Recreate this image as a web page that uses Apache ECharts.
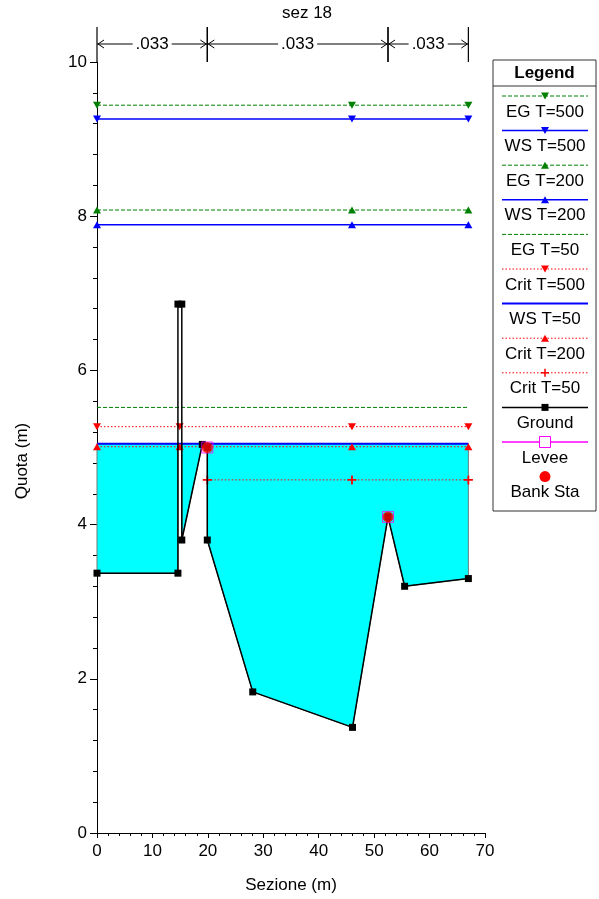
<!DOCTYPE html>
<html><head><meta charset="utf-8">
<script src="https://cdn.jsdelivr.net/npm/echarts@6/dist/echarts.min.js"></script>
<style>html,body{margin:0;padding:0;background:#fff}#c{width:599px;height:899px}</style>
</head><body><div id="c"></div>
<script>
// ---- data ----
const groundX = [0, 14.6, 14.6, 15.3, 15.3, 19.0, 19.9, 19.9, 28.1, 46.1, 52.5, 55.5, 67.0];
const groundY = [3.37, 3.37, 6.86, 6.86, 3.80, 5.04, 5.00, 3.80, 1.83, 1.37, 4.10, 3.20, 3.30];
const bankX = [19.9, 52.5];
const bankY = [5.00, 4.10];
const leveeX = [19.9, 52.5];
const leveeY = [5.00, 4.10];
const nStations = [0, 19.9, 52.5, 67];
const nValues = ['.033', '.033', '.033'];
const wsNames = ['EG T=500', 'WS T=500', 'EG T=200', 'WS T=200', 'EG T=50', 'Crit T=500', 'WS T=50', 'Crit T=200', 'Crit T=50'];
const wsLevels = [9.44, 9.26, 8.08, 7.89, 5.52, 5.27, 5.05, 5.01, 4.58];
const wsStations = [[0, 46, 67], [0, 46, 67], [0, 46, 67], [0, 46, 67], [0, 67], [0, 14.9, 46, 67], [0, 67], [0, 14.9, 46, 67], [19.9, 46, 67]];
const xTicks = [0, 10, 20, 30, 40, 50, 60, 70];
const yTicks = [0, 2, 4, 6, 8, 10];
const fillLevelName = 'WS T=50';

// ---- styles ----
const FONT = '"Liberation Sans", Arial, sans-serif';
const GREEN = '#008000', BLUE = '#0000ff', RED = '#ff0000', MAG = '#ff00ff';
const PLUS = 'path://M4,0H6V4H10V6H6V10H4V6H0V4H4Z';
const styleOf = {
  'EG T=500': {color: GREEN, type: [4, 2], w: 1, sym: 'triangle', rot: 180},
  'WS T=500': {color: BLUE, type: 'solid', w: 1.5, sym: 'triangle', rot: 180},
  'EG T=200': {color: GREEN, type: [4, 2], w: 1, sym: 'triangle', rot: 0},
  'WS T=200': {color: BLUE, type: 'solid', w: 1.5, sym: 'triangle', rot: 0},
  'EG T=50': {color: GREEN, type: [4, 2], w: 1, sym: 'none', rot: 0},
  'Crit T=500': {color: RED, type: [1.5, 2], w: 1, sym: 'triangle', rot: 180},
  'WS T=50': {color: BLUE, type: 'solid', w: 2, sym: 'none', rot: 0},
  'Crit T=200': {color: RED, type: [1.5, 2], w: 1, sym: 'triangle', rot: 0},
  'Crit T=50': {color: RED, type: [1.5, 2], w: 1, sym: PLUS, rot: 0}
};

const chart = echarts.init(document.getElementById('c'), null, {renderer: 'canvas'});

const wsLevel = wsLevels[wsNames.indexOf(fillLevelName)];
const waterPts = [[groundX[0], wsLevel]]
  .concat(groundX.map((x, i) => [x, Math.min(groundY[i], wsLevel)]))
  .concat([[groundX[groundX.length - 1], wsLevel]]);

const series = [];
series.push({
  type: 'custom', name: 'water', silent: true, z: 1, clip: false,
  data: waterPts, encode: {x: 0, y: 1},
  renderItem: (params, api) => {
    if (params.dataIndex !== 0) return null;
    const pts = waterPts.map(p => api.coord(p));
    return {type: 'polygon', shape: {points: pts}, style: {fill: '#00ffff', stroke: '#6a7a7a', lineWidth: 1}};
  }
});

wsNames.forEach((nm, i) => {
  const s = styleOf[nm];
  series.push({
    type: 'line', name: nm, z: 3, silent: true, animation: false,
    data: wsStations[i].map(x => [x, wsLevels[i]]),
    symbol: s.sym, symbolSize: s.sym === PLUS ? 9 : [8, 7], symbolRotate: s.rot,
    showAllSymbol: true,
    itemStyle: {color: s.color},
    lineStyle: {color: s.color, type: s.type, width: s.w}
  });
});

series.push({
  type: 'line', name: 'Ground', z: 5, silent: true, animation: false,
  data: groundX.map((x, i) => [x, groundY[i]]),
  symbol: 'rect', symbolSize: 7, showAllSymbol: true,
  itemStyle: {color: '#000'}, lineStyle: {color: '#000', width: 1.5}
});
series.push({
  type: 'scatter', name: 'Levee', z: 6, silent: true, animation: false,
  data: leveeX.map((x, i) => [x, leveeY[i]]),
  symbol: 'rect', symbolSize: 11,
  itemStyle: {color: 'rgba(0,0,0,0)', borderColor: MAG, borderWidth: 1}
});
series.push({
  type: 'scatter', name: 'Bank Sta', z: 7, silent: true, animation: false,
  data: bankX.map((x, i) => [x, bankY[i]]),
  symbol: 'circle', symbolSize: 11,
  itemStyle: {color: RED}
});

// Manning n annotation
const nSegs = nValues.map((v, i) => [nStations[i], nStations[i + 1], 10]);
series.push({
  type: 'custom', name: 'nvalues', silent: true, z: 8, clip: false,
  data: nSegs, encode: {x: [0, 1], y: 2},
  renderItem: (params, api) => {
    const a = api.coord([api.value(0), api.value(2)]);
    const b = api.coord([api.value(1), api.value(2)]);
    const top = a[1] - 35, ay = a[1] - 18;
    const st = {stroke: '#000', lineWidth: 1.2, fill: null};
    return {
      type: 'group',
      children: [
        {type: 'line', shape: {x1: a[0], y1: top, x2: a[0], y2: a[1]}, style: st},
        {type: 'line', shape: {x1: b[0], y1: top, x2: b[0], y2: a[1]}, style: st},
        {type: 'line', shape: {x1: a[0], y1: ay, x2: b[0], y2: ay}, style: {stroke: '#000', lineWidth: 1}},
        {type: 'polyline', shape: {points: [[a[0] + 7, ay - 4], [a[0] + 1, ay], [a[0] + 7, ay + 4]]}, style: {stroke: '#000', lineWidth: 1, fill: null}},
        {type: 'polyline', shape: {points: [[b[0] - 7, ay - 4], [b[0] - 1, ay], [b[0] - 7, ay + 4]]}, style: {stroke: '#000', lineWidth: 1, fill: null}},
        {type: 'text', x: (a[0] + b[0]) / 2, y: ay, style: {
          text: nValues[params.dataIndex], font: '17px ' + FONT, fill: '#000',
          align: 'center', verticalAlign: 'middle', backgroundColor: '#fff', padding: [0, 3]
        }}
      ]
    };
  }
});

// Legend built as graphic
const legendItems = ['EG T=500', 'WS T=500', 'EG T=200', 'WS T=200', 'EG T=50', 'Crit T=500', 'WS T=50', 'Crit T=200', 'Crit T=50', 'Ground', 'Levee', 'Bank Sta'];
const LX = 493, LY = 60, LW = 103, LH = 451;
const lg = [];
lg.push({type: 'rect', shape: {x: LX, y: LY, width: LW, height: LH}, style: {fill: '#fff', stroke: '#333', lineWidth: 1}});
lg.push({type: 'text', style: {x: LX + LW / 2, y: LY + 13, text: 'Legend', font: 'bold 17px ' + FONT, fill: '#000', align: 'center', verticalAlign: 'middle'}});
lg.push({type: 'line', shape: {x1: LX, y1: LY + 26, x2: LX + LW, y2: LY + 26}, style: {stroke: '#333', lineWidth: 1}});
const cx = LX + 52;
legendItems.forEach((nm, i) => {
  const ly = 96 + i * 34.6, ty = ly + 16;
  let color, dash = null, w = 1, sym = null, rot = 0;
  if (styleOf[nm]) {
    const s = styleOf[nm]; color = s.color; dash = s.type === 'solid' ? null : s.type; w = s.w; rot = s.rot;
    sym = s.sym === 'none' ? null : (s.sym === PLUS ? 'plus' : (rot ? 'down' : 'up'));
  } else if (nm === 'Ground') { color = '#000'; w = 1.5; sym = 'square'; }
  else if (nm === 'Levee') { color = MAG; w = 1.5; sym = 'open'; }
  else { color = RED; sym = 'circle'; }
  if (nm !== 'Bank Sta') {
    lg.push({type: 'line', shape: {x1: LX + 9, y1: ly, x2: LX + 95, y2: ly}, style: {stroke: color, lineWidth: w, lineDash: dash}});
  }
  if (sym === 'down') lg.push({type: 'polygon', shape: {points: [[cx - 4, ly - 3.5], [cx + 4, ly - 3.5], [cx, ly + 3.5]]}, style: {fill: color}});
  if (sym === 'up') lg.push({type: 'polygon', shape: {points: [[cx - 4, ly + 3.5], [cx + 4, ly + 3.5], [cx, ly - 3.5]]}, style: {fill: color}});
  if (sym === 'plus') {
    lg.push({type: 'line', shape: {x1: cx - 4, y1: ly, x2: cx + 4, y2: ly}, style: {stroke: color, lineWidth: 1.5}});
    lg.push({type: 'line', shape: {x1: cx, y1: ly - 4, x2: cx, y2: ly + 4}, style: {stroke: color, lineWidth: 1.5}});
  }
  if (sym === 'square') lg.push({type: 'rect', shape: {x: cx - 3.5, y: ly - 3.5, width: 7, height: 7}, style: {fill: '#000'}});
  if (sym === 'open') lg.push({type: 'rect', shape: {x: cx - 5.5, y: ly - 5.5, width: 11, height: 11}, style: {fill: '#fff', stroke: MAG, lineWidth: 1}});
  if (sym === 'circle') lg.push({type: 'circle', shape: {cx: cx, cy: ly, r: 5.5}, style: {fill: RED}});
  lg.push({type: 'text', style: {x: cx, y: ty, text: nm, font: '17px ' + FONT, fill: '#000', align: 'center', verticalAlign: 'middle'}});
});

const option = {
  animation: false,
  backgroundColor: '#fff',
  textStyle: {fontFamily: FONT},
  grid: {left: 97, right: 114, top: 62, bottom: 65.5, containLabel: false},
  xAxis: {
    type: 'value', min: xTicks[0], max: xTicks[xTicks.length - 1], interval: xTicks[1] - xTicks[0],
    name: 'Sezione (m)', nameLocation: 'middle', nameGap: 44,
    nameTextStyle: {fontSize: 17, color: '#000', fontFamily: FONT},
    axisLine: {onZero: false, lineStyle: {color: '#000', width: 1}},
    axisTick: {show: true, inside: false, length: 5, lineStyle: {color: '#000'}},
    minorTick: {show: true, splitNumber: 5, length: 3, lineStyle: {color: '#000'}},
    axisLabel: {fontSize: 17, color: '#000', margin: 10, fontFamily: FONT},
    splitLine: {show: false}
  },
  yAxis: {
    type: 'value', min: yTicks[0], max: yTicks[yTicks.length - 1], interval: yTicks[1] - yTicks[0],
    axisLine: {onZero: false, lineStyle: {color: '#000', width: 1}},
    axisTick: {show: true, inside: false, length: 7, lineStyle: {color: '#000'}},
    minorTick: {show: true, splitNumber: 5, length: 4, lineStyle: {color: '#000'}},
    axisLabel: {fontSize: 17, color: '#000', margin: 10, fontFamily: FONT},
    splitLine: {show: false}
  },
  graphic: [
    {type: 'text', style: {x: 307, y: 13, text: 'sez 18', font: '17px ' + FONT, fill: '#000', align: 'center', verticalAlign: 'middle'}},
    {type: 'text', x: 22, y: 461, rotation: Math.PI / 2, style: {x: 0, y: 0, text: 'Quota (m)', font: '17px ' + FONT, fill: '#000', align: 'center', verticalAlign: 'middle'}},
    {type: 'group', children: lg}
  ],
  series: series
};
chart.setOption(option);
</script>
</body></html>
